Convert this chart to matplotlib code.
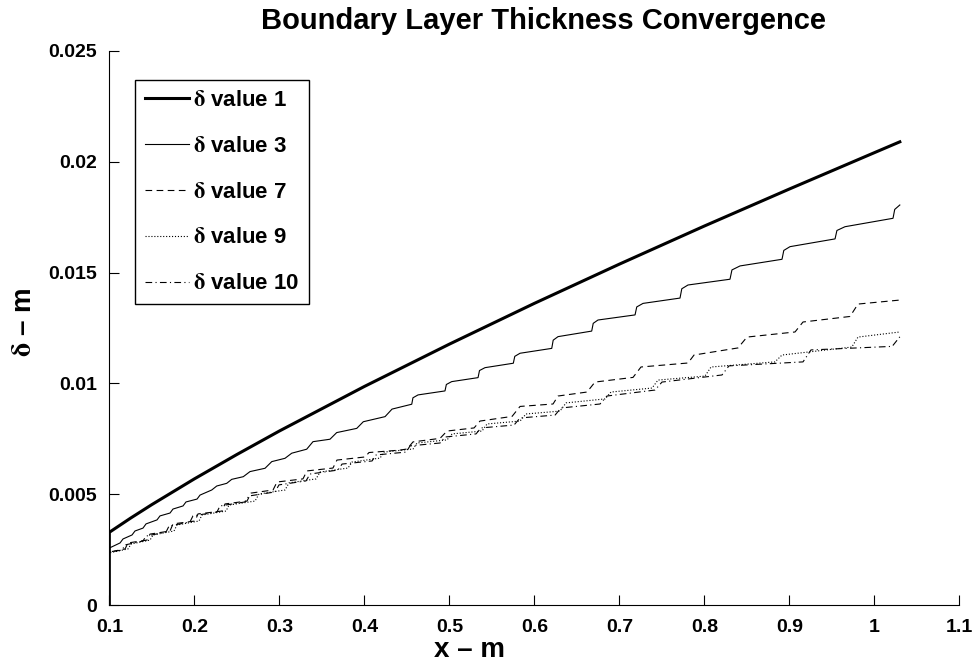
import matplotlib
matplotlib.use('Agg')
import matplotlib.pyplot as plt

plt.rcParams['font.family'] = ['Liberation Sans', 'DejaVu Sans']
plt.rcParams['font.weight'] = 'bold'
plt.rcParams['mathtext.fontset'] = 'stix'

# delta value 1 (smooth)
x1 = [0.1, 0.1, 0.125, 0.15, 0.2, 0.25, 0.3, 0.4, 0.5, 0.6, 0.7, 0.8, 0.9, 1.0, 1.03]
d1 = [0.0, 0.00328, 0.00392, 0.00453, 0.00569, 0.00679, 0.00785, 0.00986, 0.01177,
      0.01361, 0.01538, 0.01710, 0.01877, 0.02041, 0.02090]

# delta value 3 (stepped)
x3 = [0.1, 0.1, 0.1126, 0.1161, 0.1267, 0.1302, 0.1396, 0.1432, 0.1561, 0.1596,
      0.1714, 0.1749, 0.1867, 0.1902, 0.2032, 0.2067, 0.2205, 0.2264, 0.2381, 0.2440,
      0.2576, 0.2655, 0.2832, 0.2911, 0.3067, 0.3146, 0.3322, 0.3396, 0.3596, 0.3675,
      0.3911, 0.3988, 0.4244, 0.4326, 0.4558, 0.4572, 0.4632, 0.4949, 0.4965, 0.5028,
      0.5338, 0.5355, 0.5420, 0.5753, 0.5770, 0.5832, 0.6205, 0.6222, 0.6279,
      0.6675, 0.6693, 0.6749, 0.7185, 0.7205, 0.7279, 0.7714, 0.7735, 0.7808,
      0.8302, 0.8325, 0.8420, 0.8914, 0.8935, 0.9008, 0.9538, 0.9560, 0.9655,
      1.0220, 1.0240, 1.03]
d3 = [0.0, 0.00257, 0.00280, 0.00298, 0.00316, 0.00334, 0.00347, 0.00366, 0.00384, 0.00402,
      0.00415, 0.00433, 0.00447, 0.00465, 0.00478, 0.00496, 0.00519, 0.00537, 0.00549, 0.00567,
      0.00579, 0.00602, 0.00617, 0.00647, 0.00662, 0.00685, 0.00703, 0.00737, 0.00748, 0.00778,
      0.00797, 0.00827, 0.00850, 0.00884, 0.00906, 0.00935, 0.00948, 0.00966, 0.00995, 0.01008,
      0.01026, 0.01058, 0.01071, 0.01091, 0.01122, 0.01136, 0.01158, 0.01195, 0.01211,
      0.01236, 0.01271, 0.01286, 0.01309, 0.01345, 0.01361, 0.01385, 0.01427, 0.01444,
      0.01470, 0.01512, 0.01530, 0.01560, 0.01600, 0.01617, 0.01652, 0.01690, 0.01707,
      0.01745, 0.01785, 0.01805]

# delta value 7 (dashed)
x7 = [0.1, 0.1, 0.1185, 0.1220, 0.1444, 0.1479, 0.1714, 0.1749, 0.2008, 0.2043,
      0.2326, 0.2361, 0.2620, 0.2667, 0.2926, 0.2973, 0.3278, 0.3325, 0.3631, 0.3678,
      0.4008, 0.4055, 0.4420, 0.4503, 0.4573, 0.4891, 0.4973, 0.5291, 0.5361,
      0.5738, 0.5832, 0.6220, 0.6279, 0.6620, 0.6714, 0.7161, 0.7255, 0.7808, 0.7879,
      0.8396, 0.8502, 0.9067, 0.9161, 0.9714, 0.9808, 1.03]
d7 = [0.0, 0.00239, 0.00253, 0.00280, 0.00293, 0.00320, 0.00334, 0.00366, 0.00379, 0.00411,
      0.00424, 0.00456, 0.00469, 0.00505, 0.00519, 0.00555, 0.00569, 0.00605, 0.00618, 0.00654,
      0.00668, 0.00688, 0.00699, 0.00704, 0.00736, 0.00752, 0.00785, 0.00799, 0.00830,
      0.00851, 0.00896, 0.00907, 0.00943, 0.00961, 0.01006, 0.01027, 0.01074, 0.01092, 0.01128,
      0.01160, 0.01209, 0.01232, 0.01277, 0.01302, 0.01358, 0.01376]

# delta value 9 (dotted)
x9 = [0.1, 0.1, 0.1220, 0.1255, 0.1479, 0.1514, 0.1761, 0.1796, 0.2055, 0.2090,
      0.2373, 0.2408, 0.2714, 0.2761, 0.3067, 0.3114, 0.3432, 0.3479, 0.3808, 0.3855,
      0.4185, 0.4232, 0.4573, 0.4620, 0.4973, 0.5032, 0.5385, 0.5444, 0.5832, 0.5902,
      0.6302, 0.6373, 0.6832, 0.6902, 0.7385, 0.7455, 0.8008, 0.8079, 0.8831, 0.8914,
      0.9735, 0.9808, 1.03]
d9 = [0.0, 0.00235, 0.00253, 0.00275, 0.00293, 0.00316, 0.00334, 0.00361, 0.00379, 0.00406,
      0.00424, 0.00451, 0.00469, 0.00501, 0.00519, 0.00551, 0.00569, 0.00600, 0.00618, 0.00645,
      0.00663, 0.00690, 0.00704, 0.00731, 0.00745, 0.00772, 0.00785, 0.00817, 0.00830, 0.00862,
      0.00875, 0.00912, 0.00930, 0.00961, 0.00979, 0.01015, 0.01033, 0.01074, 0.01097, 0.01128,
      0.01164, 0.01209, 0.01232]

# delta value 10 (dash-dot)
x10 = [0.1, 0.1, 0.1150, 0.1185, 0.1396, 0.1432, 0.1667, 0.1702, 0.1949, 0.1984,
       0.2267, 0.2302, 0.2596, 0.2643, 0.2949, 0.2996, 0.3314, 0.3361, 0.3690, 0.3738,
       0.4091, 0.4138, 0.4491, 0.4538, 0.4891, 0.4949, 0.5314, 0.5373, 0.5761, 0.5832,
       0.6244, 0.6314, 0.6773, 0.6855, 0.7420, 0.7502, 0.8208, 0.8290, 0.9161, 0.9255,
       1.0210, 1.03]
d10 = [0.0, 0.00239, 0.00248, 0.00271, 0.00289, 0.00311, 0.00329, 0.00356, 0.00375, 0.00402,
       0.00420, 0.00447, 0.00465, 0.00492, 0.00510, 0.00542, 0.00560, 0.00591, 0.00609, 0.00636,
       0.00650, 0.00677, 0.00690, 0.00718, 0.00731, 0.00758, 0.00772, 0.00799, 0.00812, 0.00844,
       0.00857, 0.00889, 0.00907, 0.00943, 0.00970, 0.01006, 0.01038, 0.01079, 0.01097, 0.01151,
       0.01167, 0.01210]

labels = [r'$\mathrm{\delta}$ value 1', r'$\mathrm{\delta}$ value 3', r'$\mathrm{\delta}$ value 7',
          r'$\mathrm{\delta}$ value 9', r'$\mathrm{\delta}$ value 10']
xticks = [0.1, 0.2, 0.3, 0.4, 0.5, 0.6, 0.7, 0.8, 0.9, 1.0, 1.1]
xticklabels = ['0.1', '0.2', '0.3', '0.4', '0.5', '0.6', '0.7', '0.8', '0.9', '1', '1.1']
yticks = [0, 0.005, 0.01, 0.015, 0.02, 0.025]
yticklabels = ['0', '0.005', '0.01', '0.015', '0.02', '0.025']

fig = plt.figure(figsize=(9.77, 6.62), dpi=100)
ax = fig.add_axes([0.1119, 0.0861, 0.870, 0.8369])

ax.plot(x1, d1, color='k', lw=2.2, label=labels[0])
ax.plot(x3, d3, color='k', lw=0.8, label=labels[1])
ax.plot(x7, d7, color='k', lw=0.8, dashes=(6, 4), label=labels[2])
ax.plot(x9, d9, color='k', lw=0.8, linestyle=':', label=labels[3])
ax.plot(x10, d10, color='k', lw=0.8, dashes=(6, 3, 1, 3), label=labels[4])

ax.set_xlim(0.1, 1.1)
ax.set_ylim(0, 0.025)
ax.set_xticks(xticks)
ax.set_xticklabels(xticklabels)
ax.set_yticks(yticks)
ax.set_yticklabels(yticklabels)
ax.tick_params(direction='in', length=7, width=0.8, labelsize=14)
ax.tick_params(axis='x', pad=10)
ax.tick_params(axis='y', pad=9)
ax.spines['top'].set_visible(False)
ax.spines['right'].set_visible(False)

ax.set_title('Boundary Layer Thickness Convergence', fontsize=21, fontweight='bold',
             x=0.511, pad=16)
ax.set_xlabel('x \u2013 m', fontsize=20, fontweight='bold')
ax.xaxis.set_label_coords(0.424, -0.058)
ax.set_ylabel(r'$\mathrm{\delta}$' + ' \u2013 m', fontsize=20, fontweight='bold')
ax.yaxis.set_label_coords(-0.085, 0.51)

leg = ax.legend(loc='upper left', bbox_to_anchor=(0.03, 0.948), fontsize=16,
                handlelength=2.0, handletextpad=0.15, labelspacing=1.12,
                borderpad=0.45, borderaxespad=0, fancybox=False, framealpha=1,
                edgecolor='k')
leg.get_frame().set_linewidth(1.0)

fig.savefig('out.png', dpi=100)
